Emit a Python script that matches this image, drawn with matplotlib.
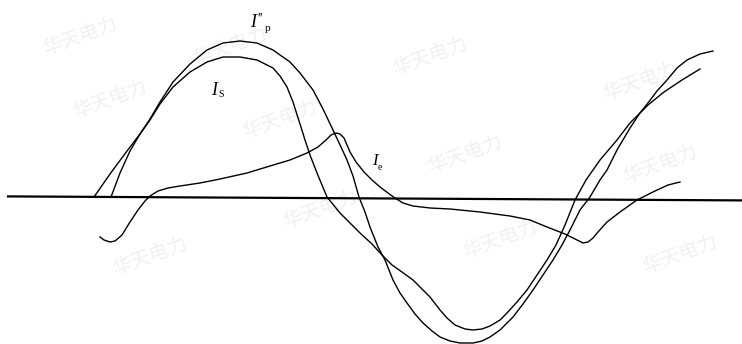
import matplotlib
matplotlib.use('Agg')
import matplotlib.pyplot as plt

plt.rcParams['font.family'] = ['Liberation Serif', 'DejaVu Serif']

# time axis (same sampling units for every curve) and current amplitudes
ip_t = [111, 120, 130, 140, 150, 160, 173, 190, 207, 223, 240, 257, 273, 290,
        300, 313, 323, 333, 341, 347, 353, 359, 365, 370, 378, 385, 393, 400, 407,
        415, 423, 432, 440, 450, 460, 473, 482, 490, 500, 513, 523, 533, 543, 553,
        562, 570, 580, 590, 600, 607, 617, 630, 640, 648, 657, 667, 677, 687, 700, 713]
ip_v = [0, 24, 46, 63, 78, 95, 115, 133, 147, 154, 156, 154, 147, 135,
        124, 107, 88, 67, 50, 37, 21, 0, -15, -30, -50, -63, -83, -96, -106,
        -117, -126, -134, -140, -144, -146, -146, -144, -140, -133, -120, -107, -93, -78, -63,
        -48, -33, -13, 0, 17, 27, 47, 69, 84, 94, 106, 117, 129, 137, 143, 146]

is_t = [94, 110, 127, 140, 150, 160, 173, 190, 207, 223, 240, 257, 273, 280, 287,
        293, 300, 305, 310, 317, 327, 340, 350, 360, 372, 382, 392, 402, 413,
        422, 430, 440, 447, 455, 465, 473, 482, 490, 500, 507, 517, 527, 537, 547,
        556, 565, 575, 586, 600, 617, 630, 648, 664, 682, 700]
is_v = [0, 23, 46, 63, 77, 93, 110, 125, 135, 140, 140, 137, 129, 121, 110,
        95, 73, 57, 42, 24, 0, -16, -26, -36, -47, -58, -68, -75, -83,
        -92, -100, -113, -121, -128, -132, -133, -132, -129, -123, -116, -105, -93, -78, -63,
        -48, -28, -3, 17, 37, 57, 74, 92, 105, 117, 128]

ie_t = [100, 104, 110, 115, 122, 130, 138, 145, 150, 158, 168, 180, 200, 220, 247,
        270, 290, 307, 318, 326, 331, 336, 340, 344, 347, 350, 356, 364, 372, 380,
        388, 395, 403, 413, 430, 450, 480, 510, 530, 547, 565, 577, 583, 588, 593,
        598, 607, 620, 637, 655, 668, 680]
ie_v = [-40, -43, -45, -44, -38, -25, -13, -4, 1, 6, 9, 11, 14, 18, 24,
        31, 37, 44, 50, 57, 62, 64, 63, 59, 52, 45, 35, 25, 17, 10,
        4, -1, -6, -9, -11, -12, -15, -19, -23, -30, -37, -43, -46, -45, -41,
        -35, -25, -15, -3, 6, 12, 15]

baseline_t = [8, 742]
baseline_v = [0.6, -3.4]

marks = ['华天电力'] * 12
mark_t = [80, 230, 430, 640, 110, 280, 465, 660, 150, 320, 500, 680]
mark_v = [160, 150, 140, 115, 97, 77, 42, 32, -60, -13, -43, -58]

fig = plt.figure(figsize=(7.42, 3.44), dpi=100)
ax = fig.add_axes([0, 0, 1, 1])
ax.set_xlim(0, 742)
ax.set_ylim(197 - 344, 197)
ax.axis('off')

# faint publisher watermark
for s, x, y in zip(marks, mark_t, mark_v):
    ax.text(x, y, s, fontsize=14, color='#f1f1f1', rotation=20,
            family=['Noto Sans CJK SC'], ha='center', va='center', zorder=0)

ax.plot(baseline_t, baseline_v, color='black', lw=1.6, zorder=2)
ax.plot(ip_t, ip_v, color='black', lw=1.0, zorder=3)
ax.plot(is_t, is_v, color='black', lw=1.0, zorder=3)
ax.plot(ie_t, ie_v, color='black', lw=1.0, zorder=3)

ax.text(250, 197 - 27, 'I', fontsize=13, style='italic', va='baseline')
ax.text(256.5, 197 - 22, "''", fontsize=10, style='italic', va='baseline')
ax.text(265, 197 - 31, 'p', fontsize=8, va='baseline')

ax.text(211, 197 - 95, 'I', fontsize=13, style='italic', va='baseline')
ax.text(218.5, 197 - 97, 'S', fontsize=7, va='baseline')

ax.text(372, 197 - 165, 'I', fontsize=12, style='italic', va='baseline')
ax.text(378, 197 - 170, 'e', fontsize=7, va='baseline')

fig.savefig('out.png', dpi=100)
